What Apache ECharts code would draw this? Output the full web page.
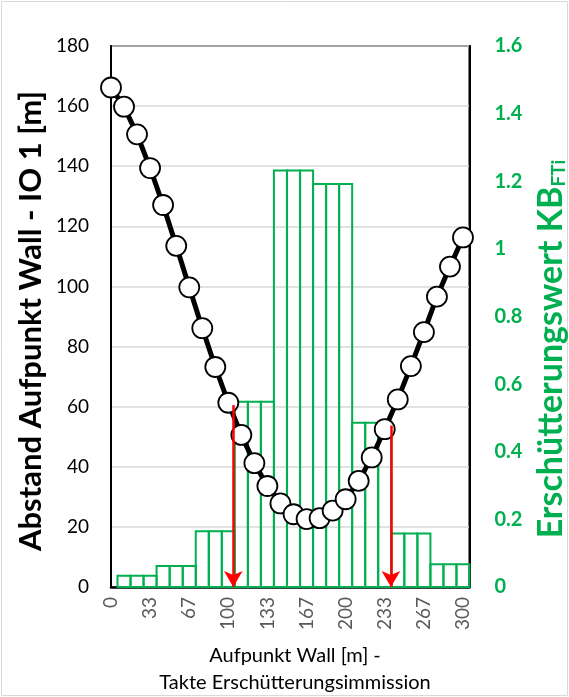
<!DOCTYPE html>
<html>
<head>
<meta charset="utf-8">
<script src="https://cdn.jsdelivr.net/npm/echarts@6/dist/echarts.min.js"></script>
<style>
  html, body { margin: 0; padding: 0; background: #fff; }
  #chart { width: 569px; height: 697px; }
</style>
</head>
<body>
<div id="chart"></div>
<script>
// Aufpunkte entlang der Wand [m]
const stations = [0, 11.1, 22.2, 33.3, 44.4, 55.6, 66.7, 77.8, 88.9, 100,
  111.1, 122.2, 133.3, 144.4, 155.6, 166.7, 177.8, 188.9, 200, 211.1,
  222.2, 233.3, 244.4, 255.6, 266.7, 277.8, 288.9, 300];

// Abstand Aufpunkt Wall - IO 1 [m]
const distances = [166.2, 159.8, 150.6, 139.4, 127.1, 113.5, 99.7, 86.1, 73.2, 61.3,
  50.6, 41.2, 33.6, 27.8, 24.2, 22.6, 22.9, 25.4, 29.2, 35.3,
  43.1, 52.5, 62.4, 73.5, 84.8, 96.6, 106.6, 116.3];

// Erschütterungswert KB_FTi je Takt (27 Takte)
const kbValues = [0.033, 0.033, 0.033, 0.062, 0.062, 0.062, 0.165, 0.165, 0.165,
  0.548, 0.548, 0.548, 1.232, 1.232, 1.232, 1.192, 1.192, 1.192,
  0.486, 0.486, 0.486, 0.158, 0.158, 0.158, 0.067, 0.067, 0.067];

// Markierte Aufpunkte (Pfeile): Lage [m] und Abstand [m]
const arrowStations = [104.2, 238.6];
const arrowDistances = [60.5, 53.7];

const xTickLabels = ['0', '33', '67', '100', '133', '167', '200', '233', '267', '300'];

const step = (stations[stations.length - 1] - stations[0]) / (stations.length - 1);
const xMax = stations[stations.length - 1] + step / 2;
const tickStep = step * 3;

const FONT = 'Lato, "Open Sans", sans-serif';
const GREEN = '#00B050';

const chart = echarts.init(document.getElementById('chart'), null, { renderer: 'canvas' });

const barData = kbValues.map((v, i) => [stations[i + 1], v]);
const lineData = distances.map((d, i) => [stations[i], d]);

chart.setOption({
  animation: false,
  backgroundColor: '#fff',
  grid: { left: 111, right: 99.5, top: 46, bottom: 110, show: true,
          borderColor: '#000', borderWidth: 2, backgroundColor: 'transparent' },
  xAxis: {
    type: 'value', min: 0, max: xMax, interval: tickStep,
    axisLine: { show: true, lineStyle: { color: '#000', width: 2.5 } },
    axisTick: { show: false },
    splitLine: { show: false },
    axisLabel: {
      rotate: 90, margin: 10, color: '#595959', fontFamily: FONT, fontSize: 19,
      showMaxLabel: false,
      formatter: v => {
        const k = Math.round(v / tickStep);
        return Math.abs(v - k * tickStep) < 1e-6 ? xTickLabels[k] : '';
      }
    }
  },
  yAxis: [
    {
      type: 'value', min: 0, max: 180, interval: 20, position: 'left',
      axisLine: { show: true, lineStyle: { color: '#000', width: 2 } },
      axisTick: { show: false },
      splitLine: { show: true, lineStyle: { color: '#d9d9d9', width: 1.5 } },
      axisLabel: { margin: 22, color: '#000', fontFamily: FONT, fontSize: 19 }
    },
    {
      type: 'value', min: 0, max: 1.6, interval: 0.2, position: 'right',
      axisLine: { show: true, lineStyle: { color: '#000', width: 2 } },
      axisTick: { show: false },
      splitLine: { show: false },
      axisLabel: {
        margin: 25, color: GREEN, fontFamily: FONT, fontSize: 20, fontWeight: 'bold',
        formatter: v => String(+v.toFixed(1))
      }
    }
  ],
  graphic: [
    { type: 'rect', shape: { x: 1.5, y: 1.5, width: 566, height: 694 },
      style: { fill: 'none', stroke: '#d9d9d9', lineWidth: 1 }, silent: true, z: 0 },
    { type: 'text', x: 31, y: 321, rotation: Math.PI / 2,
      style: { text: 'Abstand Aufpunkt Wall - IO 1 [m]', font: 'bold 31px ' + FONT,
               fill: '#000', textAlign: 'center', textVerticalAlign: 'middle' } },
    { type: 'text', x: 549, y: 349, rotation: Math.PI / 2,
      style: {
        text: '{m|Erschütterungswert KB}{s|FTi}',
        textAlign: 'center', textVerticalAlign: 'middle',
        rich: {
          m: { font: 'bold 34px ' + FONT, fill: GREEN, lineHeight: 38, verticalAlign: 'bottom' },
          s: { font: 'bold 19px ' + FONT, fill: GREEN, lineHeight: 26, verticalAlign: 'bottom' }
        }
      } },
    { type: 'text', x: 295, y: 656,
      style: { text: 'Aufpunkt Wall [m] -', font: '20px ' + FONT, fill: '#000',
               textAlign: 'center', textVerticalAlign: 'middle' } },
    { type: 'text', x: 295, y: 683,
      style: { text: 'Takte Erschütterungsimmission', font: '20px ' + FONT, fill: '#000',
               textAlign: 'center', textVerticalAlign: 'middle' } }
  ],
  series: [
    {
      name: 'KB_FTi',
      type: 'custom',
      yAxisIndex: 1,
      z: 2,
      data: barData,
      renderItem: (params, api) => {
        const x = api.value(0);
        const v = api.value(1);
        const p0 = api.coord([x - step / 2, v]);
        const p1 = api.coord([x + step / 2, 0]);
        return {
          type: 'rect',
          shape: { x: p0[0], y: p0[1], width: p1[0] - p0[0], height: p1[1] - p0[1] },
          style: { fill: 'none', stroke: GREEN, lineWidth: 2 }
        };
      }
    },
    {
      name: 'Pfeile',
      type: 'line',
      yAxisIndex: 0,
      z: 3,
      data: [],
      markLine: {
        silent: true,
        symbol: ['none', 'arrow'],
        symbolSize: [14, 16],
        label: { show: false },
        lineStyle: { color: '#FF0000', width: 2.5, type: 'solid' },
        data: arrowStations.map((s, i) => [
          { coord: [s, arrowDistances[i]] },
          { coord: [s, 0] }
        ])
      }
    },
    {
      name: 'Abstand',
      type: 'line',
      yAxisIndex: 0,
      z: 4,
      data: lineData,
      symbol: 'circle',
      symbolSize: 20,
      lineStyle: { color: '#000', width: 5 },
      itemStyle: { color: '#fff', borderColor: '#000', borderWidth: 1.8 }
    }
  ]
});
</script>
</body>
</html>
